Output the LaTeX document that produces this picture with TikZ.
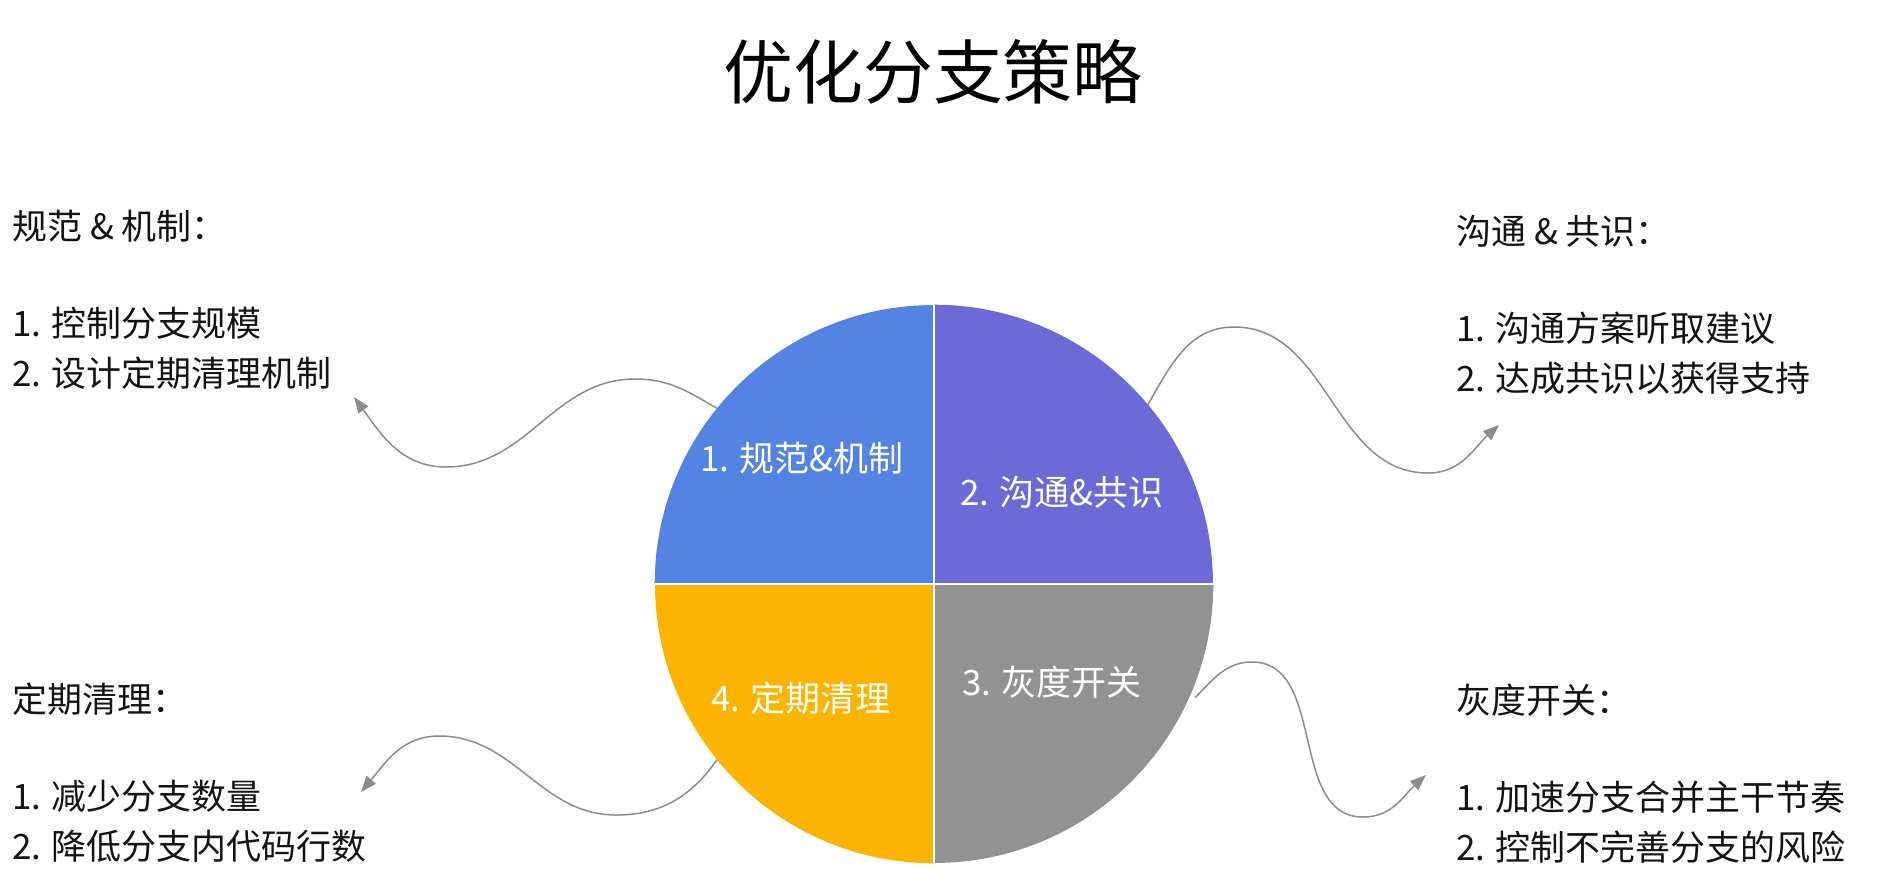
\documentclass[tikz,border=0pt]{standalone}
\usepackage{fontspec}
\setmainfont{Noto Sans CJK SC}
\usepackage{tikz}
\usetikzlibrary{positioning,arrows.meta}

\definecolor{pieblue}{RGB}{83,131,227}
\definecolor{piepurple}{RGB}{108,106,214}
\definecolor{piegray}{RGB}{146,146,146}
\definecolor{pieyellow}{RGB}{252,180,0}
\definecolor{linkgray}{RGB}{140,140,140}

\begin{document}
\begin{tikzpicture}[x=0.02cm, y=0.02cm,
  note/.style={inner sep=0pt, align=left, anchor=west, text=black!92, font=\fontsize{19.9}{28.45}\selectfont},
  seg/.style={inner sep=0pt, text=white, font=\fontsize{19.9}{24}\selectfont},
  link/.style={draw=linkgray, line width=0.85pt, ->},
  >={Triangle[length=0.32cm, width=0.24cm]}]
\useasboundingbox (0,0) rectangle (1892,-880);
% title
\node[font=\fontsize{39.8}{44}\selectfont] (title) at (933,-72) {优化分支策略};
% pie in the middle
\node[circle, minimum size=11.16cm, inner sep=0pt] (pie) at (934,-584) {};
\fill[pieblue] (pie.center) -- (pie.west) arc[start angle=180, end angle=90, radius=5.58cm] -- cycle;
\fill[piepurple] (pie.center) -- (pie.north) arc[start angle=90, end angle=0, radius=5.58cm] -- cycle;
\fill[piegray] (pie.center) -- (pie.east) arc[start angle=0, end angle=-90, radius=5.58cm] -- cycle;
\fill[pieyellow] (pie.center) -- (pie.south) arc[start angle=-90, end angle=-180, radius=5.58cm] -- cycle;
\draw[white, line width=1.4pt] (pie.north) -- (pie.south) (pie.west) -- (pie.east);
\node[seg] (s1) at (802,-458) {1. 规范\&机制};
\node[seg] (s2) at (1062,-492) {2. 沟通\&共识};
\node[seg] (s3) at (1052,-682) {3. 灰度开关};
\node[seg] (s4) at (801,-698) {4. 定期清理};
% notes in the corners
\node[note] (n1) at (12,-300) {规范 \& 机制：\\[0.94cm]1. 控制分支规模\\2. 设计定期清理机制};
\node[note] (n2) at (1456,-305) {沟通 \& 共识：\\[0.94cm]1. 沟通方案听取建议\\2. 达成共识以获得支持};
\node[note] (n4) at (12,-773) {定期清理：\\[0.94cm]1. 减少分支数量\\2. 降低分支内代码行数};
\node[note] (n3) at (1456,-774) {灰度开关：\\[0.94cm]1. 加速分支合并主干节奏\\2. 控制不完善分支的风险};
% wavy links
\coordinate (t1) at (354,-397);
\coordinate (t2) at (1499,-425);
\coordinate (t3) at (1426,-775);
\coordinate (t4) at (361,-792);
\draw[link] (pie.141) to[out=150,in=0] (635,-379) to[out=180,in=0] (446,-467) to[out=180,in=-54] (t1);
\draw[link] (pie.40) to[out=60,in=180] (1234,-327) to[out=0,in=180] (1428,-473) to[out=0,in=-138] (t2);
\draw[link] ([xshift=0.12cm]pie.336) to[out=45,in=180] (1252,-662) to[out=0,in=180] (1363,-817) to[out=0,in=-138] (t3);
\draw[link] (pie.219) to[out=-125,in=0] (616,-815) to[out=180,in=0] (439,-736) to[out=180,in=50] (t4);
\end{tikzpicture}
\end{document}
